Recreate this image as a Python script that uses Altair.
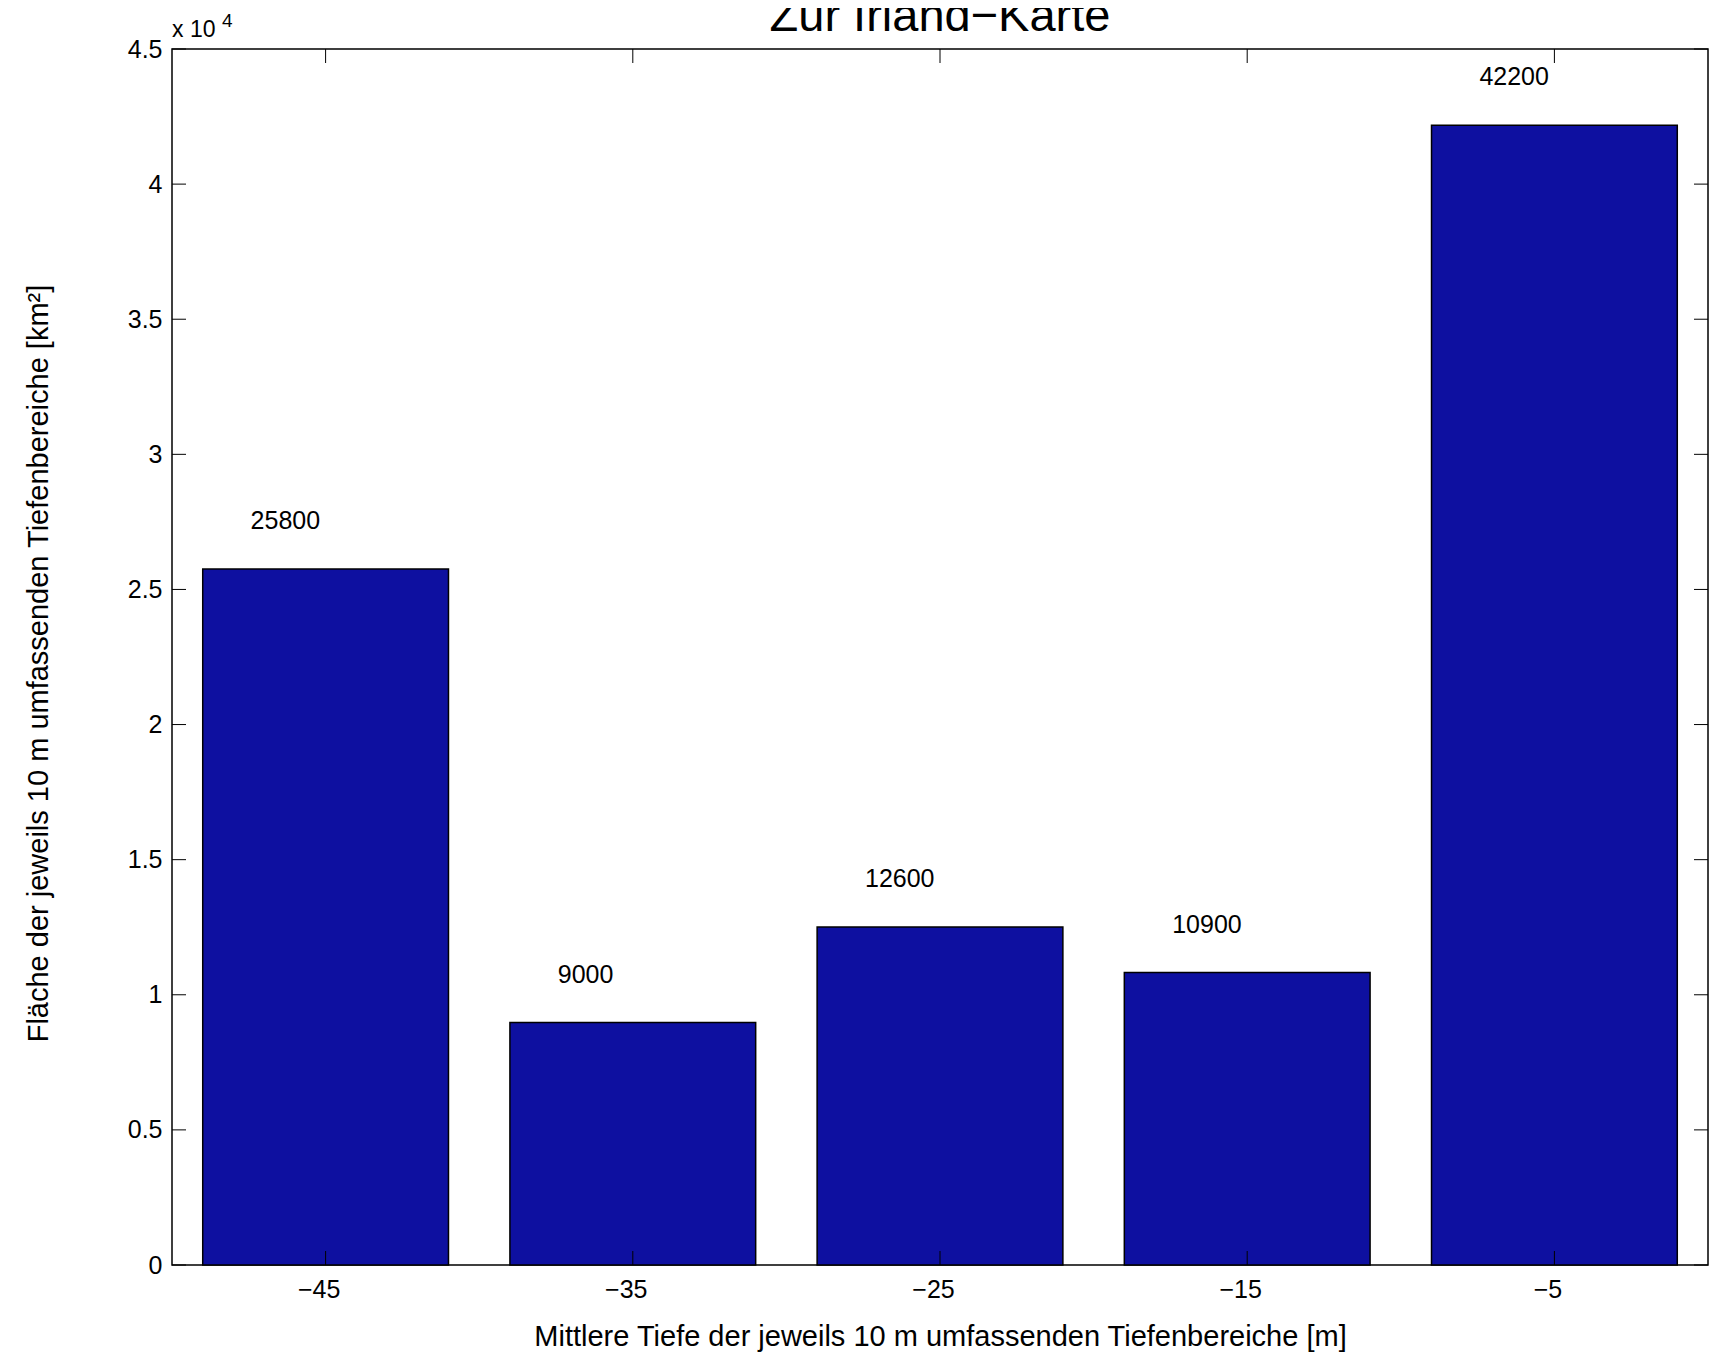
import altair as alt
import pandas as pd

# ---- data ----
depth_centers = [-45, -35, -25, -15, -5]          # mittlere Tiefe [m]
areas = [25760, 8970, 12510, 10820, 42180]          # bar heights [km^2]
area_labels = ["25800", "9000", "12600", "10900", "42200"]
x_ticks = [-45, -35, -25, -15, -5]
y_ticks = [0, 5000, 10000, 15000, 20000, 25000, 30000, 35000, 40000, 45000]
bar_half_width = 4  # bars span 0.8 of the 10 m class width

title_text = "Zur Irland\u2212Karte"
x_title = "Mittlere Tiefe der jeweils 10 m umfassenden Tiefenbereiche [m]"
y_title = "Fläche der jeweils 10 m umfassenden Tiefenbereiche [km²]"

W, H = 1536, 1216
FONT = "Liberation Sans"
BAR_COLOR = "#0e10a0"

df = pd.DataFrame({
    "center": depth_centers,
    "lo": [c - bar_half_width for c in depth_centers],
    "hi": [c + bar_half_width for c in depth_centers],
    "value": areas,
    "label": area_labels,
})
xt = pd.DataFrame({"v": x_ticks})
yt = pd.DataFrame({"v": y_ticks})
one = pd.DataFrame({"k": [0]})

xscale = alt.Scale(domain=[-50, 0], nice=False, zero=False)
yscale = alt.Scale(domain=[0, 45000], nice=False)

xaxis = alt.Axis(values=x_ticks, title=x_title, domain=False, ticks=False, tickSize=0,
                 grid=False, labelFontSize=25, labelPadding=12, labelFont=FONT, labelOffset=-7,
                 labelColor="black", labelExpr="'\u2212' + abs(datum.value)",
                 titleFont=FONT, titleFontSize=29, titleFontWeight="normal",
                 titleColor="black", titleBaseline="alphabetic", titleY=80,
                 titleX=W / 2, titleAlign="center")
yaxis = alt.Axis(values=y_ticks, title=y_title, domain=False, ticks=False, tickSize=0,
                 grid=False, labelFontSize=25, labelPadding=10, labelFont=FONT,
                 labelColor="black", labelExpr="'' + datum.value / 10000",
                 titleFont=FONT, titleFontSize=29, titleFontWeight="normal",
                 titleColor="black", titleAngle=-90, titleBaseline="alphabetic",
                 titleX=-125, titleY=614, titleAlign="center")

bars = alt.Chart(df).mark_bar(color=BAR_COLOR, stroke="black", strokeWidth=1.5).encode(
    x=alt.X("lo:Q", scale=xscale, axis=xaxis),
    x2="hi:Q",
    y=alt.Y("value:Q", scale=yscale, axis=yaxis),
    y2=alt.datum(0),
)

labels = alt.Chart(df).mark_text(align="left", baseline="middle", dx=-75, dy=-48,
                                 fontSize=25, font=FONT, color="black").encode(
    x=alt.X("center:Q", scale=xscale, axis=xaxis),
    y=alt.Y("value:Q", scale=yscale, axis=yaxis),
    text="label:N",
)

tick_style = dict(color="black", strokeWidth=1)
ytick_left = alt.Chart(yt).mark_rule(**tick_style).encode(
    y=alt.Y("v:Q", scale=yscale, axis=yaxis), x=alt.value(0), x2=alt.value(14))
ytick_right = alt.Chart(yt).mark_rule(**tick_style).encode(
    y=alt.Y("v:Q", scale=yscale, axis=yaxis), x=alt.value(W - 14), x2=alt.value(W))
xtick_bottom = alt.Chart(xt).mark_rule(**tick_style).encode(
    x=alt.X("v:Q", scale=xscale, axis=xaxis), y=alt.value(H - 14), y2=alt.value(H))
xtick_top = alt.Chart(xt).mark_rule(**tick_style).encode(
    x=alt.X("v:Q", scale=xscale, axis=xaxis), y=alt.value(0), y2=alt.value(14))

title = alt.Chart(one).mark_text(align="center", baseline="alphabetic", fontSize=47,
                                 font=FONT, color="black").encode(
    x=alt.value(W / 2), y=alt.value(-18), text=alt.value(title_text))

exp_base = alt.Chart(one).mark_text(align="left", baseline="alphabetic", fontSize=23,
                                    font=FONT, color="black").encode(
    x=alt.value(0), y=alt.value(-12), text=alt.value("x 10"))
exp_sup = alt.Chart(one).mark_text(align="left", baseline="alphabetic", fontSize=19,
                                   font=FONT, color="black").encode(
    x=alt.value(50), y=alt.value(-22), text=alt.value("4"))

chart = alt.layer(
    bars, labels, ytick_left, ytick_right, xtick_bottom, xtick_top, title, exp_base, exp_sup
).properties(
    width=W, height=H,
    autosize=alt.AutoSizeParams(type="none"),
    padding={"left": 164, "top": 41, "right": 1, "bottom": 88},
    background="white",
).configure_view(stroke="black", strokeWidth=1.5)

chart.save("out.html", embed_options={"renderer": "svg", "actions": False})
